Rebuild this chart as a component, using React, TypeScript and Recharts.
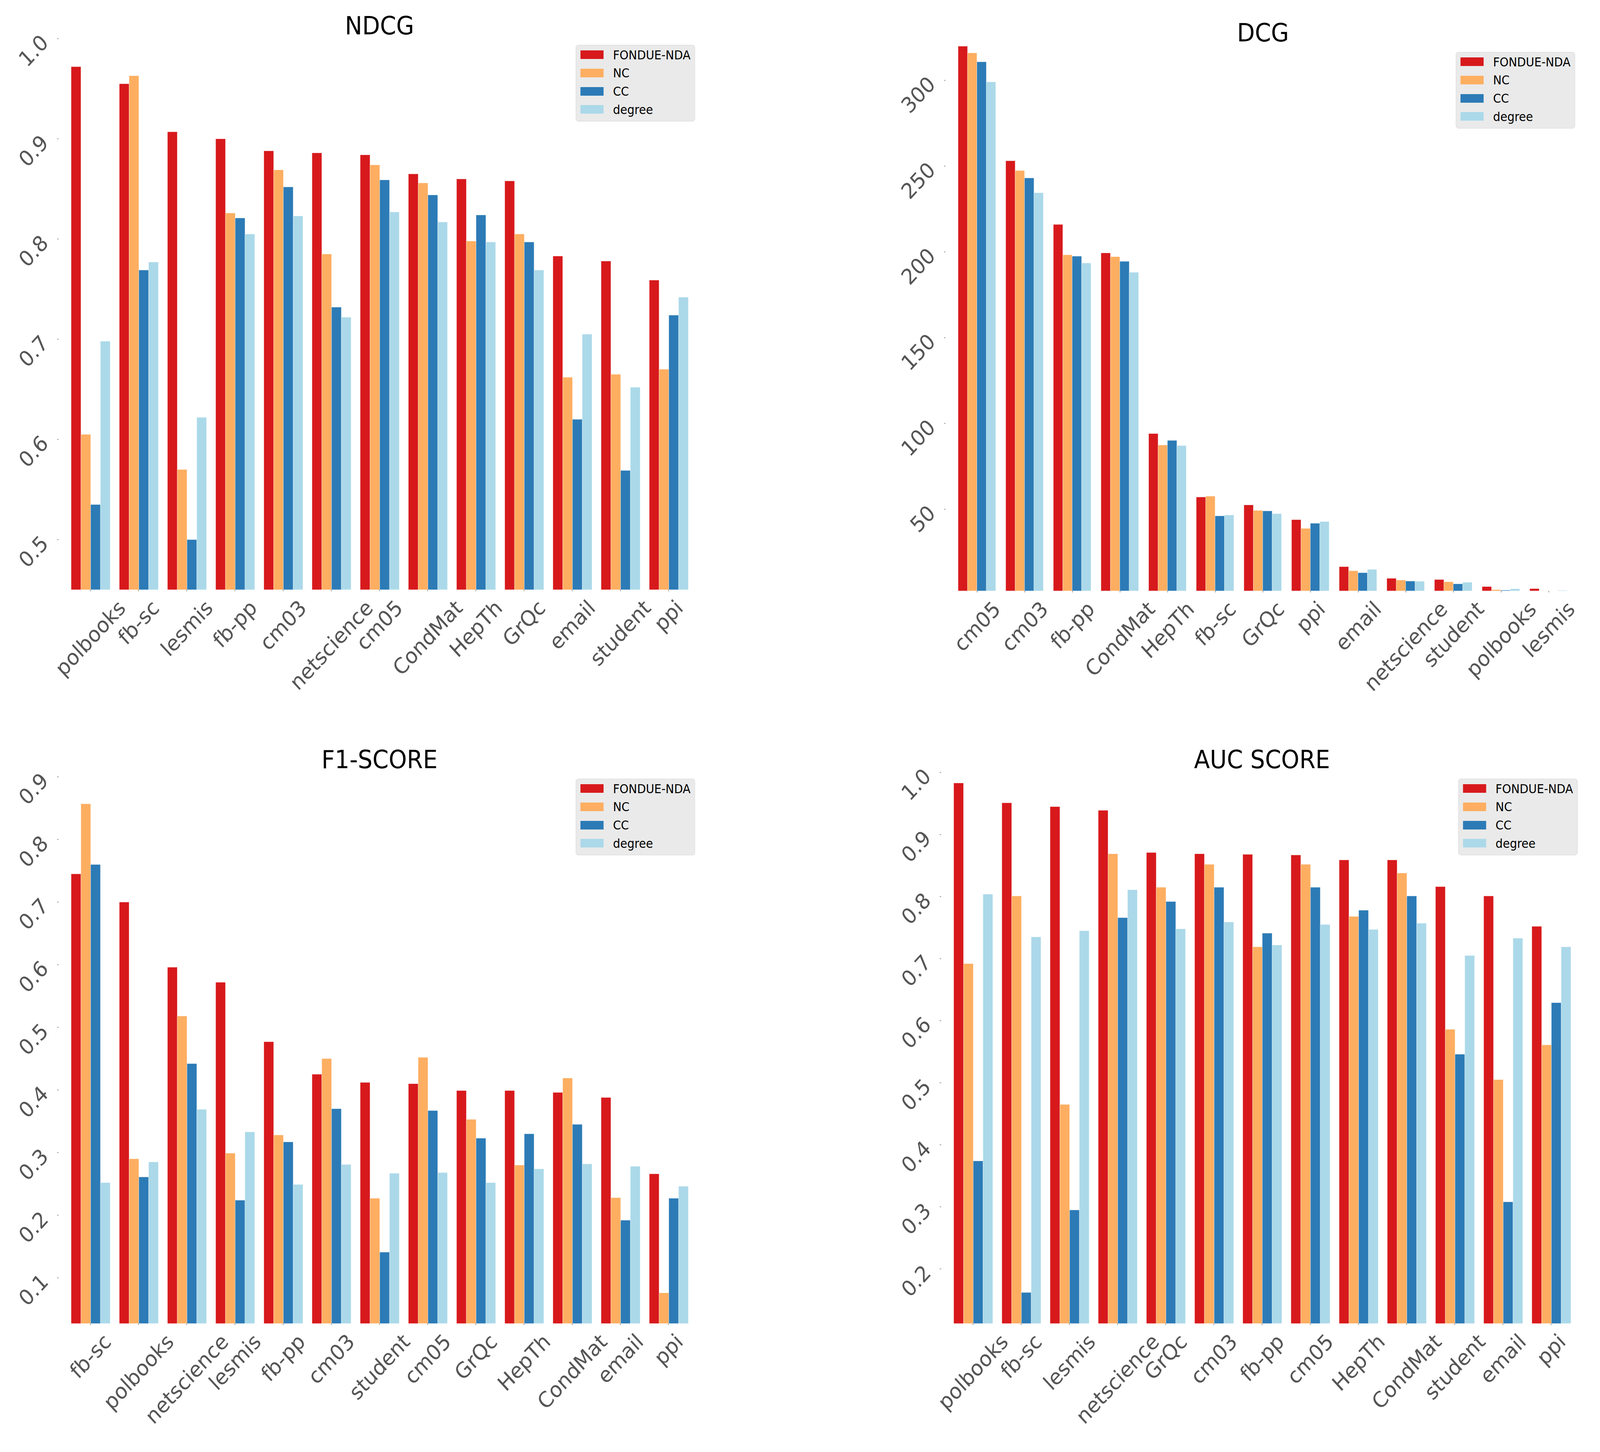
import React from 'react';
import { BarChart, Bar, XAxis, YAxis, Legend } from 'recharts';

// series shared by all four panels
const SERIES = ['FONDUE-NDA', 'NC', 'CC', 'degree'];
const COLORS = ['#d7191c', '#fdae61', '#2c7bb6', '#abd9e9'];

// NDCG
const ndcgCategories = ['polbooks', 'fb-sc', 'lesmis', 'fb-pp', 'cm03', 'netscience', 'cm05', 'CondMat', 'HepTh', 'GrQc', 'email', 'student', 'ppi'];
const ndcgFondue = [0.972, 0.955, 0.907, 0.900, 0.888, 0.886, 0.884, 0.865, 0.860, 0.858, 0.783, 0.778, 0.759];
const ndcgNC = [0.605, 0.963, 0.570, 0.826, 0.869, 0.785, 0.874, 0.856, 0.798, 0.805, 0.662, 0.665, 0.670];
const ndcgCC = [0.535, 0.769, 0.500, 0.821, 0.852, 0.732, 0.859, 0.844, 0.824, 0.797, 0.620, 0.569, 0.724];
const ndcgDegree = [0.698, 0.777, 0.622, 0.805, 0.823, 0.722, 0.827, 0.817, 0.797, 0.769, 0.705, 0.652, 0.742];
const ndcgTicks = [0.5, 0.6, 0.7, 0.8, 0.9, 1.0];

// DCG
const dcgCategories = ['cm05', 'cm03', 'fb-pp', 'CondMat', 'HepTh', 'fb-sc', 'GrQc', 'ppi', 'email', 'netscience', 'student', 'polbooks', 'lesmis'];
const dcgFondue = [319.9, 253.1, 216.0, 199.4, 94.1, 57.1, 52.5, 43.9, 16.5, 9.7, 9.0, 4.9, 3.7];
const dcgNC = [316.0, 247.4, 198.3, 197.2, 87.4, 57.6, 49.3, 38.8, 14.1, 8.7, 7.7, 3.1, 2.5];
const dcgCC = [310.8, 243.1, 197.5, 194.5, 90.1, 46.1, 49.0, 41.8, 13.0, 8.1, 6.5, 2.8, 1.5];
const dcgDegree = [299.1, 234.5, 193.5, 188.1, 87.1, 46.6, 47.4, 42.8, 14.9, 8.0, 7.4, 3.6, 2.7];
const dcgTicks = [50, 100, 150, 200, 250, 300];

// F1-SCORE
const f1Categories = ['fb-sc', 'polbooks', 'netscience', 'lesmis', 'fb-pp', 'cm03', 'student', 'cm05', 'GrQc', 'HepTh', 'CondMat', 'email', 'ppi'];
const f1Fondue = [0.745, 0.700, 0.596, 0.572, 0.477, 0.425, 0.412, 0.410, 0.399, 0.399, 0.396, 0.388, 0.266];
const f1NC = [0.857, 0.290, 0.518, 0.299, 0.328, 0.450, 0.227, 0.452, 0.353, 0.280, 0.419, 0.228, 0.076];
const f1CC = [0.760, 0.261, 0.442, 0.224, 0.317, 0.370, 0.141, 0.367, 0.323, 0.330, 0.345, 0.192, 0.227];
const f1Degree = [0.252, 0.285, 0.369, 0.333, 0.249, 0.281, 0.267, 0.268, 0.252, 0.274, 0.282, 0.278, 0.246];
const f1Ticks = [0.1, 0.2, 0.3, 0.4, 0.5, 0.6, 0.7, 0.8, 0.9];

// AUC SCORE
const aucCategories = ['polbooks', 'fb-sc', 'lesmis', 'netscience', 'GrQc', 'cm03', 'fb-pp', 'cm05', 'HepTh', 'CondMat', 'student', 'email', 'ppi'];
const aucFondue = [0.983, 0.951, 0.945, 0.939, 0.871, 0.869, 0.868, 0.867, 0.859, 0.859, 0.816, 0.801, 0.752];
const aucNC = [0.692, 0.801, 0.465, 0.869, 0.815, 0.852, 0.719, 0.852, 0.768, 0.838, 0.586, 0.505, 0.561];
const aucCC = [0.374, 0.162, 0.295, 0.766, 0.792, 0.815, 0.741, 0.815, 0.778, 0.801, 0.546, 0.308, 0.629];
const aucDegree = [0.804, 0.735, 0.745, 0.811, 0.748, 0.759, 0.722, 0.755, 0.747, 0.757, 0.705, 0.733, 0.719];
const aucTicks = [0.2, 0.3, 0.4, 0.5, 0.6, 0.7, 0.8, 0.9, 1.0];

const FIG_W = 4427;
const FIG_H = 3718;
const FONT = 'DejaVu Sans';
const TICK_FONT = 55;
const GREY = '#555555';

// DejaVu Sans advance widths (em), used to place the rotated labels like matplotlib does
const ADV: Record<string, number> = {
    a: 0.613, b: 0.635, c: 0.55, d: 0.635, e: 0.615, f: 0.352, g: 0.635, h: 0.634, i: 0.278,
    k: 0.579, l: 0.278, m: 0.974, n: 0.634, o: 0.612, p: 0.635, q: 0.635, r: 0.411, s: 0.521,
    t: 0.392, u: 0.634, v: 0.592, w: 0.818, x: 0.592, y: 0.592,
    C: 0.698, M: 0.863, H: 0.752, T: 0.611, G: 0.775, Q: 0.787,
    '-': 0.361, '.': 0.318,
};
const textWidth = (s: string, size: number) =>
    s.split('').reduce((acc, ch) => acc + (ADV[ch] ?? (/[0-9]/.test(ch) ? 0.636 : 0.6)), 0) * size;

const XTick = ({ x, payload, bottom }: any) => {
    const label = String(payload.value);
    const w = textWidth(label, TICK_FONT);
    const h = 1.164 * TICK_FONT;
    const side = (w + h) * 0.7071;
    const cy = bottom + 14 + side / 2;
    return (
        <text
            transform={`translate(${x},${cy}) rotate(-45)`}
            x={0}
            y={0.346 * TICK_FONT}
            textAnchor="middle"
            fontSize={TICK_FONT}
            fontFamily={FONT}
            fill={GREY}
        >
            {label}
        </text>
    );
};

const YTick = ({ y, payload, left, digits }: any) => {
    const label = Number(payload.value).toFixed(digits);
    const w = textWidth(label, TICK_FONT);
    const cap = 0.729 * TICK_FONT;
    const side = (w + cap) * 0.7071;
    const cx = left - 25 - side / 2;
    const cy = y - 15 + side / 2;
    return (
        <text
            transform={`translate(${cx},${cy}) rotate(-45)`}
            x={0}
            y={cap / 2}
            textAnchor="middle"
            fontSize={TICK_FONT}
            fontFamily={FONT}
            fill={GREY}
        >
            {label}
        </text>
    );
};

const LegendBox = () => (
    <div
        style={{
            position: 'relative',
            width: 330,
            height: 196,
            boxSizing: 'border-box',
            background: '#eaeaea',
            border: '1.5px solid #d4d4d4',
            borderRadius: 7,
            fontFamily: FONT,
        }}
    >
        {SERIES.map((name, k) => (
            <React.Fragment key={name}>
                <div
                    style={{
                        position: 'absolute',
                        left: 12,
                        top: 13 + k * 46.8,
                        width: 64,
                        height: 22,
                        background: COLORS[k],
                    }}
                />
                <div
                    style={{
                        position: 'absolute',
                        left: 102,
                        top: 9.5 + k * 46.8,
                        fontSize: 31.6,
                        lineHeight: '31.6px',
                        color: '#000',
                        whiteSpace: 'nowrap',
                    }}
                >
                    {name}
                </div>
            </React.Fragment>
        ))}
    </div>
);

type PanelProps = {
    title: string;
    categories: string[];
    values: number[][];
    domain: [number, number];
    ticks: number[];
    digits: number;
    box: { left: number; top: number; width: number; height: number };
    plot: { left: number; right: number; top: number; bottom: number };
    pad: number;
};

const Panel = ({ title, categories, values, domain, ticks, digits, box, plot, pad }: PanelProps) => {
    const data = categories.map((name, i) => {
        const row: Record<string, string | number> = { name };
        SERIES.forEach((s, k) => {
            row[s] = values[k][i];
        });
        return row;
    });

    return (
        <div style={{ position: 'absolute', left: box.left, top: box.top, width: box.width, height: box.height }}>
            <div
                style={{
                    position: 'absolute',
                    left: plot.left,
                    width: plot.right - plot.left,
                    top: plot.top - 10.5 - 54.2,
                    textAlign: 'center',
                    fontFamily: FONT,
                    fontSize: 64,
                    lineHeight: '64px',
                    color: '#000',
                    whiteSpace: 'nowrap',
                }}
            >
                {title}
            </div>
            <BarChart
                width={box.width}
                height={box.height}
                data={data}
                margin={{ top: plot.top, right: box.width - plot.right, left: 0, bottom: 0 }}
                barCategoryGap="10%"
                barGap={0}
            >
                <XAxis
                    dataKey="name"
                    height={box.height - plot.bottom}
                    axisLine={false}
                    tickLine={{ stroke: '#777', strokeWidth: 1.5 }}
                    tickSize={4}
                    interval={0}
                    padding={{ left: pad, right: pad }}
                    tick={(p: any) => <XTick {...p} bottom={plot.bottom} />}
                />
                <YAxis
                    width={plot.left}
                    type="number"
                    domain={domain}
                    ticks={ticks}
                    allowDataOverflow
                    axisLine={false}
                    tickLine={{ stroke: '#777', strokeWidth: 1.5 }}
                    tickSize={4}
                    interval={0}
                    tick={(p: any) => <YTick {...p} left={plot.left} digits={digits} />}
                />
                <Legend
                    layout="vertical"
                    align="center"
                    verticalAlign="middle"
                    wrapperStyle={{
                        left: plot.right - 15 - 330,
                        top: plot.top + 16,
                        width: 330,
                        height: 196,
                    }}
                    content={() => <LegendBox />}
                />
                {SERIES.map((s, k) => (
                    <Bar
                        key={s}
                        dataKey={s}
                        fill={COLORS[k]}
                        stroke="#ffffff"
                        strokeOpacity={0.5}
                        strokeWidth={1}
                        isAnimationActive={false}
                    />
                ))}
            </BarChart>
        </div>
    );
};

export default function App() {
    // the browser caps the viewport width, so stretch the 4427x3718 figure over the real viewport
    const vw = typeof window !== 'undefined' ? window.innerWidth : FIG_W;
    const vh = typeof window !== 'undefined' ? window.innerHeight : FIG_H;
    const sx = vw / FIG_W;
    const sy = vh / FIG_H;

    return (
        <div
            style={{
                position: 'fixed',
                left: 0,
                top: 0,
                width: '100vw',
                height: '100vh',
                overflow: 'hidden',
                background: '#ffffff',
            }}
        >
            <div
                style={{
                    position: 'absolute',
                    left: 0,
                    top: 0,
                    width: FIG_W,
                    height: FIG_H,
                    transform: `scale(${sx}, ${sy})`,
                    transformOrigin: '0 0',
                    fontFamily: FONT,
                }}
            >
                <Panel
                    title="NDCG"
                    categories={ndcgCategories}
                    values={[ndcgFondue, ndcgNC, ndcgCC, ndcgDegree]}
                    domain={[0.45, 1.0]}
                    ticks={ndcgTicks}
                    digits={1}
                    box={{ left: 0, top: 0, width: 2200, height: 1850 }}
                    plot={{ left: 162, right: 1938, top: 99, bottom: 1510 }}
                    pad={21.5}
                />
                <Panel
                    title="DCG"
                    categories={dcgCategories}
                    values={[dcgFondue, dcgNC, dcgCC, dcgDegree]}
                    domain={[2.4, 320.2]}
                    ticks={dcgTicks}
                    digits={0}
                    box={{ left: 2200, top: 0, width: 2227, height: 1850 }}
                    plot={{ left: 416, right: 2173, top: 117, bottom: 1513 }}
                    pad={21.8}
                />
                <Panel
                    title="F1-SCORE"
                    categories={f1Categories}
                    values={[f1Fondue, f1NC, f1CC, f1Degree]}
                    domain={[0.027, 0.907]}
                    ticks={f1Ticks}
                    digits={1}
                    box={{ left: 0, top: 1850, width: 2200, height: 1868 }}
                    plot={{ left: 162, right: 1938, top: 128, bottom: 1539 }}
                    pad={21.5}
                />
                <Panel
                    title="AUC SCORE"
                    categories={aucCategories}
                    values={[aucFondue, aucNC, aucCC, aucDegree]}
                    domain={[0.112, 1.0]}
                    ticks={aucTicks}
                    digits={1}
                    box={{ left: 2200, top: 1850, width: 2227, height: 1868 }}
                    plot={{ left: 404, right: 2180, top: 128, bottom: 1539 }}
                    pad={21.5}
                />
            </div>
        </div>
    );
}
